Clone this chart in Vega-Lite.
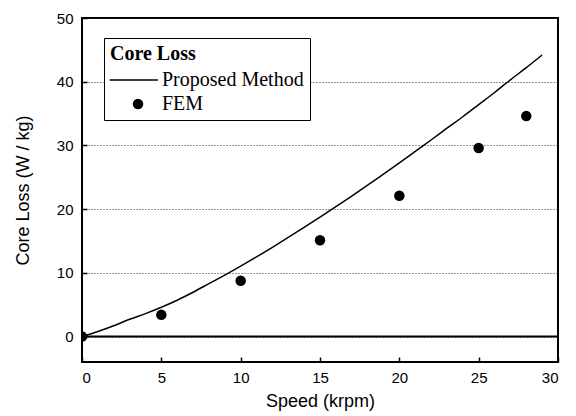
{
  "$schema": "https://vega.github.io/schema/vega-lite/v6.json",
  "width": 476,
  "height": 344,
  "autosize": {"type": "none"},
  "padding": {"left": 82, "top": 18, "right": 18, "bottom": 54},
  "background": "white",
  "config": {
    "view": {"stroke": "black", "strokeWidth": 2},
    "axis": {
      "domain": false,
      "labelFont": "Liberation Sans",
      "labelFontSize": 15,
      "labelColor": "black",
      "titleFont": "Liberation Sans",
      "titleFontSize": 18,
      "titleFontWeight": "normal",
      "titleColor": "black",
      "tickColor": "black",
      "tickWidth": 1.5,
      "tickSize": -5
    }
  },
  "datasets": {
    "proposed": [
      {"speed": 0, "loss": 0},
      {"speed": 1, "loss": 0.8},
      {"speed": 2, "loss": 1.7},
      {"speed": 3, "loss": 2.7},
      {"speed": 4, "loss": 3.6},
      {"speed": 5, "loss": 4.6},
      {"speed": 6, "loss": 5.7},
      {"speed": 7, "loss": 6.95},
      {"speed": 8, "loss": 8.3},
      {"speed": 9, "loss": 9.65},
      {"speed": 10, "loss": 11.05},
      {"speed": 11, "loss": 12.5},
      {"speed": 12, "loss": 14.0},
      {"speed": 13, "loss": 15.55},
      {"speed": 14, "loss": 17.15},
      {"speed": 15, "loss": 18.75},
      {"speed": 16, "loss": 20.4},
      {"speed": 17, "loss": 22.05},
      {"speed": 18, "loss": 23.75},
      {"speed": 19, "loss": 25.5},
      {"speed": 20, "loss": 27.25},
      {"speed": 21, "loss": 29.05},
      {"speed": 22, "loss": 30.85},
      {"speed": 23, "loss": 32.7},
      {"speed": 24, "loss": 34.5},
      {"speed": 25, "loss": 36.4},
      {"speed": 26, "loss": 38.3},
      {"speed": 27, "loss": 40.3},
      {"speed": 28, "loss": 42.2},
      {"speed": 29, "loss": 44.2}
    ],
    "fem": [
      {"speed": 0, "loss": 0, "series": "FEM"},
      {"speed": 5, "loss": 3.4, "series": "FEM"},
      {"speed": 10, "loss": 8.75, "series": "FEM"},
      {"speed": 15, "loss": 15.1, "series": "FEM"},
      {"speed": 20, "loss": 22.1, "series": "FEM"},
      {"speed": 25, "loss": 29.6, "series": "FEM"},
      {"speed": 28, "loss": 34.6, "series": "FEM"}
    ],
    "zero": [{"loss": 0}]
  },
  "layer": [
    {
      "data": {"name": "zero"},
      "mark": {"type": "rule", "color": "black", "strokeWidth": 2},
      "encoding": {
        "y": {"field": "loss", "type": "quantitative"}
      }
    },
    {
      "data": {"name": "proposed"},
      "mark": {"type": "line", "color": "black", "strokeWidth": 1.5, "interpolate": "monotone"},
      "encoding": {
        "x": {
          "field": "speed",
          "type": "quantitative",
          "scale": {"domain": [0, 30], "nice": false},
          "axis": {
            "title": "Speed (krpm)",
            "values": [0, 5, 10, 15, 20, 25, 30],
            "grid": false,
            "labelPadding": 13,
            "titlePadding": 7
          }
        },
        "y": {
          "field": "loss",
          "type": "quantitative",
          "scale": {"domain": [-4, 50], "nice": false, "zero": false},
          "axis": {
            "title": "Core Loss (W / kg)",
            "values": [0, 10, 20, 30, 40, 50],
            "grid": true,
            "gridColor": "#333333",
            "gridDash": [1, 2],
            "gridWidth": 1,
            "labelPadding": 14,
            "titlePadding": 24
          }
        }
      }
    },
    {
      "data": {"name": "fem"},
      "mark": {"type": "point", "filled": true, "color": "black", "opacity": 1, "size": 110, "clip": true},
      "encoding": {
        "x": {"field": "speed", "type": "quantitative"},
        "y": {"field": "loss", "type": "quantitative"},
        "shape": {
          "field": "series",
          "type": "nominal",
          "scale": {
            "domain": ["Proposed Method", "FEM"],
            "range": ["M-5.4,-0.15H3.8V0.15H-5.4Z", "circle"]
          },
          "legend": {
            "title": "Core Loss",
            "orient": "none",
            "legendX": 22,
            "legendY": 20,
            "direction": "vertical",
            "strokeColor": "black",
            "fillColor": "white",
            "padding": 6,
            "titleFont": "Liberation Serif",
            "titleFontSize": 20,
            "titleFontWeight": "bold",
            "titleColor": "black",
            "titlePadding": 6,
            "labelFont": "Liberation Serif",
            "labelFontSize": 20,
            "labelColor": "black",
            "labelOffset": 14,
            "symbolOffset": 18,
            "symbolSize": 110,
            "symbolFillColor": "black",
            "symbolStrokeColor": "black",
            "symbolStrokeWidth": 0.5,
            "rowPadding": 4,
            "encode": {
              "symbols": {
                "update": {
                  "fill": {"value": "black"},
                  "stroke": {"value": "black"},
                  "strokeWidth": {"value": 0.5},
                  "opacity": {"value": 1}
                }
              }
            }
          }
        }
      }
    }
  ]
}
